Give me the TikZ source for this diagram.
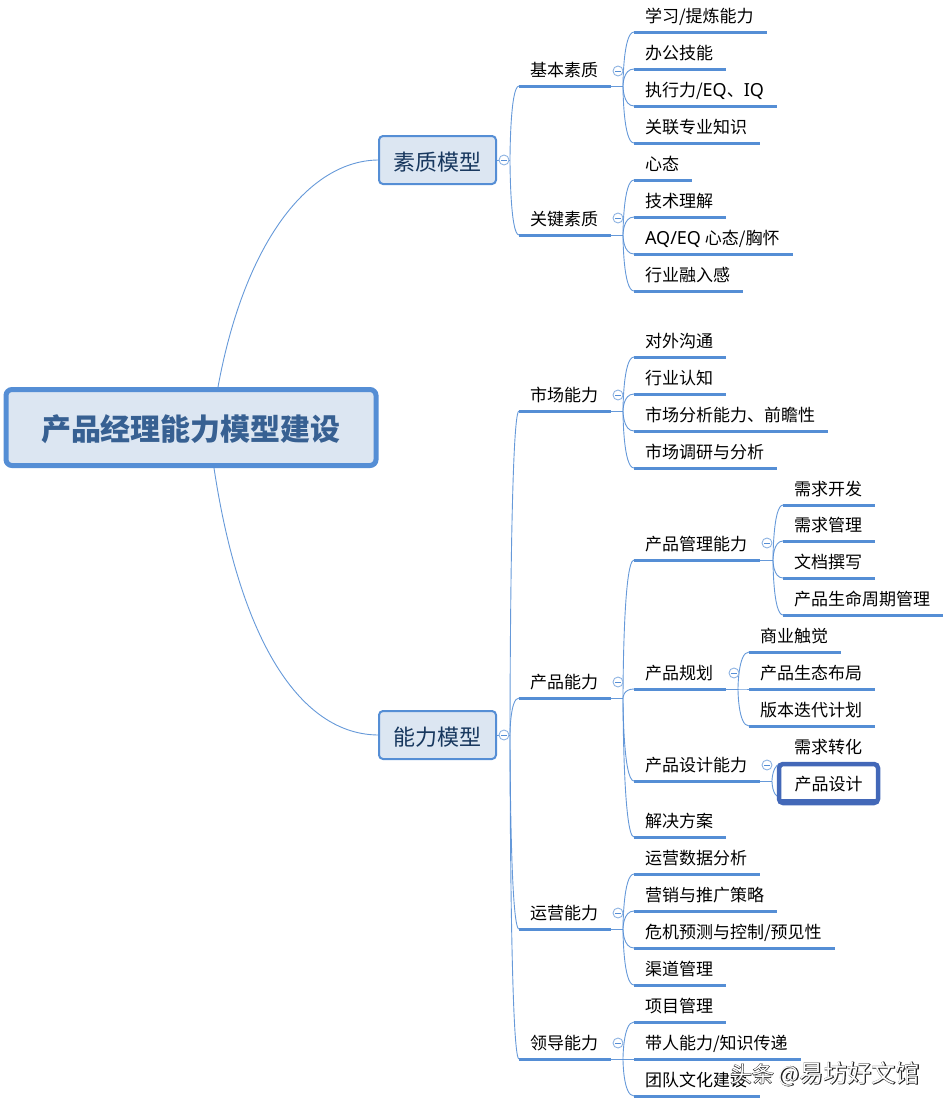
\documentclass[tikz,border=0pt]{standalone}
\usepackage{fontspec}
\setmainfont{Noto Sans CJK SC}
\newfontfamily\markfont[FakeBold=4]{Noto Sans CJK SC}
\newfontfamily\latfont[Scale=1.06]{Noto Sans}
\definecolor{linkblue}{HTML}{558ED5}
\definecolor{boxfill}{HTML}{DCE6F2}
\definecolor{rootink}{HTML}{376092}
\definecolor{topink}{HTML}{17375E}
\definecolor{hilite}{HTML}{4368B8}
\definecolor{iconblue}{HTML}{8DB3E2}
\newcommand{\fanto}[2]{\draw[fan] (#1) .. controls (#1) and (#1 |- #2.south west) .. (#2.south west);}
\newcommand{\stub}[2]{\draw[fan] (#1.south east) -- (#2);}
\newcommand{\collapse}[2]{\node[icon] (#1) at (#2) {}; \draw[iconminus] ([xshift=-3pt]#1.center) -- ([xshift=3pt]#1.center);}
\newcommand{\wmtext}[1]{\rlap{\markfont\color{black!85}#1}{\color{white}#1}}
\tikzset{
 x=1pt,y=-1pt,
 fan/.style={draw=linkblue,line width=0.9pt,opacity=0.9},
 underln/.style={draw=linkblue,line width=3pt},
 leaf/.style={anchor=south west,inner xsep=11pt,inner ysep=0pt,outer sep=0pt,minimum height=33pt,
   text height=15.5pt,text depth=1.5pt,font=\fontsize{17}{17}\selectfont,text=black,
   append after command={(\tikzlastnode.south west) edge[underln] ([xshift=2pt]\tikzlastnode.south east)}},
 topic/.style={draw=linkblue,line width=2pt,rounded corners=4pt,fill=boxfill,minimum width=117pt,minimum height=48pt,
   inner sep=0pt,outer sep=0pt,text=topink,font=\fontsize{22}{22}\selectfont,text height=22pt,text depth=1.2pt},
 rootbox/.style={draw=linkblue,line width=5pt,rounded corners=6pt,fill=boxfill,minimum width=370pt,minimum height=76pt,
   inner sep=0pt,outer sep=0pt,text=rootink,font=\fontsize{30}{30}\selectfont\bfseries,text height=30pt,text depth=3.2pt},
 icon/.style={circle,draw=iconblue,fill=white,line width=0.9pt,minimum size=10pt,inner sep=0pt,outer sep=0pt},
 iconminus/.style={draw=linkblue,line width=0.8pt},
 hibox/.style={draw=hilite,line width=4.5pt,rounded corners=4pt,fill=white,minimum width=99pt,minimum height=39pt,
   inner sep=0pt,outer sep=0pt,font=\fontsize{17}{17}\selectfont,text=black,text height=15pt,text depth=2pt},
 wmark/.style={anchor=west,inner sep=0pt,outer sep=0pt,font=\fontsize{22}{22}\selectfont}
}
\begin{document}
\begin{tikzpicture}
\useasboundingbox (0,0) rectangle (947,1106);
\node[rootbox] (root) at (191,427.5) {产品经理能力模型建设};
\node[topic] (quality) at (437.5,160) {素质模型};
\node[topic] (ability) at (437.5,735) {能力模型};
% second level
\node[leaf] (jb) at (519,86) {基本素质};
\node[leaf] (gj) at (519,235) {关键素质};
\node[leaf] (sc) at (519,411) {市场能力};
\node[leaf] (cp) at (519,698) {产品能力};
\node[leaf] (yy) at (519,929) {运营能力};
\node[leaf] (ld) at (519,1059) {领导能力};
% basic
\node[leaf] (jb1) at (634,32) {学习/提炼能力};
\node[leaf] (jb2) at (634,69) {办公技能};
\node[leaf] (jb3) at (634,106) {执行力/{\latfont EQ}、{\latfont IQ}};
\node[leaf] (jb4) at (634,143) {关联专业知识};
% key
\node[leaf] (gj1) at (634,180) {心态};
\node[leaf] (gj2) at (634,217) {技术理解};
\node[leaf] (gj3) at (634,254) {{\latfont AQ/EQ} 心态/胸怀};
\node[leaf] (gj4) at (634,291) {行业融入感};
% market
\node[leaf] (sc1) at (634,357) {对外沟通};
\node[leaf] (sc2) at (634,394) {行业认知};
\node[leaf] (sc3) at (634,431) {市场分析能力、前瞻性};
\node[leaf] (sc4) at (634,468) {市场调研与分析};
% product
\node[leaf] (cp1) at (634,560) {产品管理能力};
\node[leaf] (cp2) at (634,689) {产品规划};
\node[leaf] (cp3) at (634,781) {产品设计能力};
\node[leaf] (cp4) at (634,837) {解决方案};
\node[leaf] (m1) at (783,505) {需求开发};
\node[leaf] (m2) at (783,541) {需求管理};
\node[leaf] (m3) at (783,578) {文档撰写};
\node[leaf] (m4) at (783,615) {产品生命周期管理};
\node[leaf] (p1) at (749,652) {商业触觉};
\node[leaf] (p2) at (749,689) {产品生态布局};
\node[leaf] (p3) at (749,726) {版本迭代计划};
\node[leaf] (d1) at (783,763) {需求转化};
% operations
\node[leaf] (yy1) at (634,874) {运营数据分析};
\node[leaf] (yy2) at (634,911) {营销与推广策略};
\node[leaf] (yy3) at (634,948) {危机预测与控制/预见性};
\node[leaf] (yy4) at (634,985) {渠道管理};
% leadership
\node[leaf] (ld1) at (634,1022) {项目管理};
\node[leaf] (ld2) at (634,1059) {带人能力/知识传递};
\node[leaf] (ld3) at (634,1096) {团队文化建设};
% hubs
\coordinate (hq) at (510,160);
\coordinate (ha) at (510,735);
\coordinate (hjb) at (623,86);
\coordinate (hgj) at (623,235);
\coordinate (hsc) at (623,411);
\coordinate (hcp) at (623,698);
\coordinate (hyy) at (623,929);
\coordinate (hld) at (623,1059);
\coordinate (hm) at (773,560);
\coordinate (hp) at (738,689);
\coordinate (hd) at (772,781);
\coordinate (rt) at (218,387);
\coordinate (rb) at (214,468);
\coordinate (d2low) at (780,797);
% root links
\draw[fan] (rt) .. controls (245,240) and (310,160) .. (quality.west);
\draw[fan] (rb) .. controls (240,640) and (300,735) .. (ability.west);
% stubs
\draw[fan] (quality.east) -- (hq);
\draw[fan] (ability.east) -- (ha);
\stub{jb}{hjb}\stub{gj}{hgj}\stub{sc}{hsc}\stub{cp}{hcp}\stub{yy}{hyy}\stub{ld}{hld}
\stub{cp1}{hm}\stub{cp2}{hp}\stub{cp3}{hd}
% fans
\fanto{hq}{jb}\fanto{hq}{gj}
\fanto{ha}{sc}\fanto{ha}{cp}\fanto{ha}{yy}\fanto{ha}{ld}
\fanto{hjb}{jb1}\fanto{hjb}{jb2}\fanto{hjb}{jb3}\fanto{hjb}{jb4}
\fanto{hgj}{gj1}\fanto{hgj}{gj2}\fanto{hgj}{gj3}\fanto{hgj}{gj4}
\fanto{hsc}{sc1}\fanto{hsc}{sc2}\fanto{hsc}{sc3}\fanto{hsc}{sc4}
\fanto{hcp}{cp1}\fanto{hcp}{cp2}\fanto{hcp}{cp3}\fanto{hcp}{cp4}
\fanto{hm}{m1}\fanto{hm}{m2}\fanto{hm}{m3}\fanto{hm}{m4}
\fanto{hp}{p1}\fanto{hp}{p2}\fanto{hp}{p3}
\fanto{hd}{d1}\draw[fan] (hd) .. controls (hd) and (hd |- d2low) .. (d2low);
\fanto{hyy}{yy1}\fanto{hyy}{yy2}\fanto{hyy}{yy3}\fanto{hyy}{yy4}
\fanto{hld}{ld1}\fanto{hld}{ld2}\fanto{hld}{ld3}
% highlighted box
\node[hibox] (d2) at (828.5,783.5) {产品设计};
\draw[draw=hilite,line width=3pt] ([xshift=2pt,yshift=3pt]d2.south west) -- ([xshift=-2pt,yshift=3pt]d2.south east);
% collapse icons
\collapse{c1}{504,160}\collapse{c2}{504,735}
\collapse{c3}{618,71}\collapse{c4}{618,218}\collapse{c5}{618,395}\collapse{c6}{618,682}\collapse{c7}{618,913}\collapse{c8}{618,1043}
\collapse{c9}{767,543}\collapse{c10}{734,673}\collapse{c11}{767,765}
% watermark
\node[wmark] (wm) at (730,1074) {\wmtext{头条 @}\fontsize{24}{24}\selectfont\wmtext{易坊好文馆}};
\end{tikzpicture}
\end{document}
